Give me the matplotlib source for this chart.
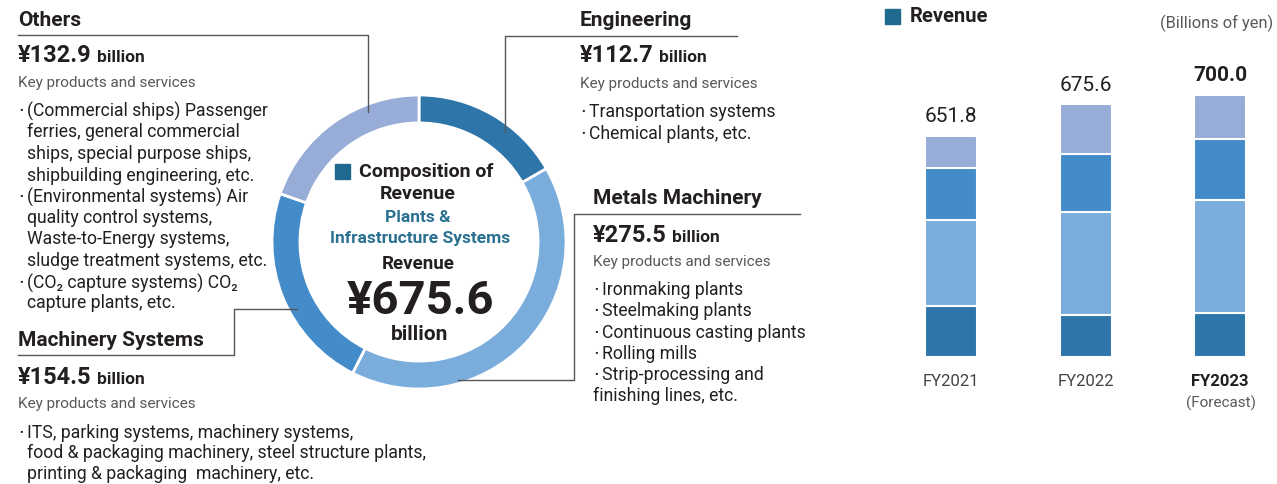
import matplotlib.pyplot as plt
from matplotlib.patches import Rectangle

plt.rcParams['font.family'] = ['Roboto', 'DejaVu Sans']

# donut data (FY2022, billions of yen)
segments = ["Engineering", "Metals Machinery", "Machinery Systems", "Others"]
seg_values = [112.7, 275.5, 154.5, 132.9]
seg_colors = ["#2e75aa", "#7aaddc", "#448cc9", "#97add7"]
total = "¥675.6"

# bar data, segments (bottom to top)
years = ["FY2021", "FY2022", "FY2023"]
eng = [136, 112.7, 118]
metals = [230, 275.5, 303]
machinery = [139, 154.5, 161]
others = [87, 132.9, 118]
totals = ["651.8", "675.6", "700.0"]

dark = "#231f20"
gray = "#595757"
teal = "#2a7191"
line_c = "#555555"

W, H = 1277, 484
fig = plt.figure(figsize=(W / 100, H / 100), dpi=100)

# donut
cx, cy, r = 419, 242, 147
ax_pie = fig.add_axes([(cx - r) / W, (H - cy - r) / H, 2 * r / W, 2 * r / H])
ax_pie.pie(seg_values, colors=seg_colors, startangle=90, counterclock=False,
           wedgeprops=dict(width=0.19, edgecolor="white", linewidth=2))
ax_pie.set_xlim(-1, 1)
ax_pie.set_ylim(-1, 1)
ax_pie.axis("off")

# stacked bars
base, scale = 357, 0.374
x0 = 951
step = 134.5
left, right = 880, 1277
top = 40
ax_bar = fig.add_axes([left / W, (H - base) / H, (right - left) / W, (base - top) / H])
xs = range(len(years))
bottom = [0, 0, 0]
for vals, c in zip([eng, metals, machinery, others], seg_colors):
    ax_bar.bar(xs, vals, 52 / step, bottom=bottom, color=c, edgecolor="white", linewidth=1.5)
    bottom = [b + v for b, v in zip(bottom, vals)]
for i, (b, t) in enumerate(zip(bottom, totals)):
    ax_bar.annotate(t, (i, b), xytext=(0, 7), textcoords="offset points", ha="center",
                    va="bottom", fontsize=15, color=dark,
                    fontweight="bold" if i == 2 else "normal")
ax_bar.set_xlim((left - x0) / step, (right - x0) / step)
ax_bar.set_ylim(0, (base - top) / scale)
ax_bar.set_xticks(list(xs))
ax_bar.set_xticklabels(years, fontsize=12, color="#444444")
ax_bar.get_xticklabels()[2].set_fontweight("bold")
ax_bar.get_xticklabels()[2].set_color(dark)
ax_bar.tick_params(axis="x", length=0, pad=12)
ax_bar.set_yticks([])
for s in ax_bar.spines.values():
    s.set_visible(False)
ax_bar.patch.set_visible(False)

# overlay for text and leader lines, pixel coordinates
ax = fig.add_axes([0, 0, 1, 1])
ax.set_xlim(0, W)
ax.set_ylim(H, 0)
ax.axis("off")


def block(x, y, title, amount, bullets, y_amt, y_key, y_lines):
    ax.text(x, y, title, fontsize=15, fontweight="bold", color=dark, va="center")
    ax.text(x, y_amt, amount, fontsize=17, fontweight="bold", color=dark, va="center")
    ax.text(x + 79, y_amt + 1, "billion", fontsize=12.5, fontweight="bold",
            color=dark, va="center")
    ax.text(x, y_key, "Key products and services", fontsize=11, color=gray, va="center")
    for (bx, txt), ly in zip(bullets, y_lines):
        if txt.startswith("•"):
            ax.text(bx + 1, ly, "•", fontsize=8, color=dark, va="center")
            ax.text(bx + 9, ly, txt[1:], fontsize=12.7, color=dark, va="center")
        else:
            ax.text(bx, ly, txt, fontsize=12.7, color=dark, va="center")


# Others
ax.plot([18, 368, 368], [35, 35, 112], color=line_c, lw=1)
block(18, 20, "Others", "¥132.9", [
    (18, "•(Commercial ships) Passenger"),
    (27, "ferries, general commercial"),
    (27, "ships, special purpose ships,"),
    (27, "shipbuilding engineering, etc."),
    (18, "•(Environmental systems) Air"),
    (27, "quality control systems,"),
    (27, "Waste-to-Energy systems,"),
    (27, "sludge treatment systems, etc."),
    (18, "•(CO₂ capture systems) CO₂"),
    (27, "capture plants, etc."),
], 56, 83, [111, 132, 154, 176, 197, 218, 239, 261, 283, 303])

# Engineering
ax.plot([737, 505, 505], [36, 36, 132], color=line_c, lw=1)
block(580, 20, "Engineering", "¥112.7", [
    (580, "•Transportation systems"),
    (580, "•Chemical plants, etc."),
], 56, 84, [112, 134])

# Metals Machinery
ax.plot([800, 574, 574, 458], [214, 214, 380, 380], color=line_c, lw=1)
block(593, 198, "Metals Machinery", "¥275.5", [
    (593, "•Ironmaking plants"),
    (593, "•Steelmaking plants"),
    (593, "•Continuous casting plants"),
    (593, "•Rolling mills"),
    (593, "•Strip-processing and"),
    (593, "finishing lines, etc."),
], 236, 262, [290, 311, 333, 354, 375, 396])

# Machinery Systems
ax.plot([18, 234, 234, 297], [355, 355, 309, 309], color=line_c, lw=1)
block(18, 341, "Machinery Systems", "¥154.5", [
    (18, "•ITS, parking systems, machinery systems,"),
    (27, "food & packaging machinery, steel structure plants,"),
    (27, "printing & packaging  machinery, etc."),
], 378, 404, [433, 453, 474])

# donut centre
ax.add_patch(Rectangle((335, 164), 15, 15, color="#1f6a8e"))
ax.text(359, 172, "Composition of", fontsize=14, fontweight="bold", color=dark, va="center")
ax.text(418, 194, "Revenue", fontsize=14, fontweight="bold", color=dark, va="center", ha="center")
ax.text(418, 218, "Plants &", fontsize=12.5, fontweight="bold", color=teal, va="center", ha="center")
ax.text(420, 238, "Infrastructure Systems", fontsize=12.5, fontweight="bold", color=teal,
        va="center", ha="center")
ax.text(418, 264, "Revenue", fontsize=13.5, fontweight="bold", color=dark, va="center", ha="center")
ax.text(420, 301, total, fontsize=34, fontweight="bold", color=dark, va="center", ha="center")
ax.text(420, 335, "billion", fontsize=15, fontweight="bold", color=dark, va="center", ha="center")

# bar legend / unit
ax.add_patch(Rectangle((885, 9), 15, 15, color="#1f6a8e"))
ax.text(910, 17, "Revenue", fontsize=14.5, fontweight="bold", color=dark, va="center")
ax.text(1273, 23, "(Billions of yen)", fontsize=11.8, color=gray, va="center", ha="right")
ax.text(1221, 403, "(Forecast)", fontsize=11, color=gray, va="center", ha="center")

fig.savefig("out.png", dpi=100)
